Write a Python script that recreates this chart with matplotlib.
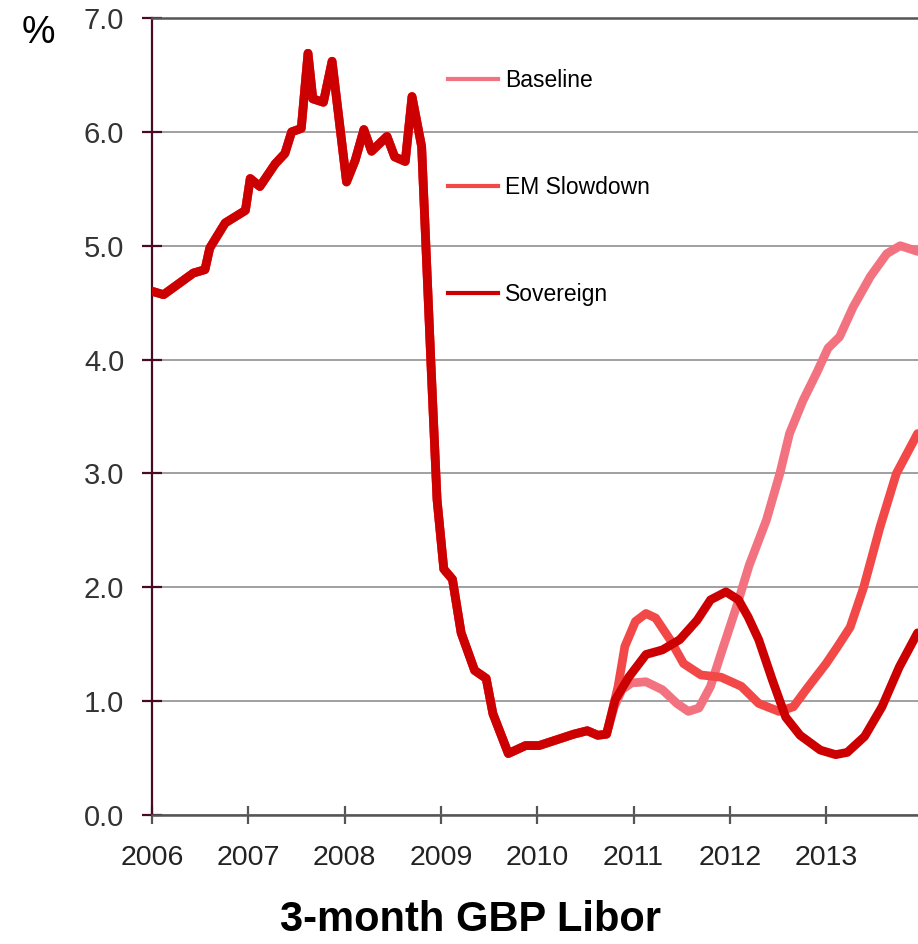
import matplotlib
matplotlib.use('Agg')
import matplotlib.pyplot as plt
from matplotlib.lines import Line2D

plt.rcParams['font.family'] = ['Liberation Sans', 'DejaVu Sans']

# history (shared by all scenarios)
hist_x = [2006.00, 2006.12, 2006.43, 2006.55, 2006.60, 2006.76, 2006.97, 2007.02, 2007.12, 2007.28,
          2007.38, 2007.45, 2007.55, 2007.62, 2007.67, 2007.78, 2007.87, 2008.02, 2008.11, 2008.20,
          2008.28, 2008.44, 2008.52, 2008.63, 2008.70, 2008.80, 2008.90, 2008.96, 2009.03, 2009.12,
          2009.21, 2009.35, 2009.47, 2009.54, 2009.70, 2009.88, 2010.02, 2010.20, 2010.38, 2010.52,
          2010.63]
hist_y = [4.60, 4.57, 4.76, 4.79, 4.98, 5.20, 5.31, 5.59, 5.52, 5.72,
          5.81, 6.00, 6.03, 6.69, 6.29, 6.26, 6.62, 5.56, 5.75, 6.02,
          5.83, 5.96, 5.78, 5.74, 6.31, 5.87, 3.90, 2.77, 2.16, 2.07,
          1.60, 1.27, 1.20, 0.89, 0.54, 0.61, 0.61, 0.66, 0.71, 0.74,
          0.70]

base_x = [2010.72, 2010.80, 2010.88, 2010.98, 2011.13, 2011.30, 2011.45, 2011.57, 2011.68, 2011.80,
          2011.91, 2012.07, 2012.20, 2012.38, 2012.52, 2012.62, 2012.76, 2012.90, 2013.02, 2013.14,
          2013.28, 2013.46, 2013.63, 2013.77, 2013.95]
base_y = [0.71, 0.95, 1.10, 1.16, 1.17, 1.10, 0.98, 0.91, 0.94, 1.13,
          1.42, 1.83, 2.19, 2.59, 3.00, 3.35, 3.64, 3.88, 4.10, 4.20,
          4.46, 4.73, 4.93, 5.00, 4.95]

em_x = [2010.72, 2010.84, 2010.91, 2011.02, 2011.13, 2011.23, 2011.38, 2011.52, 2011.70, 2011.91,
        2012.12, 2012.30, 2012.51, 2012.66, 2012.80, 2013.00, 2013.12, 2013.25, 2013.39, 2013.56,
        2013.73, 2013.95]
em_y = [0.71, 1.13, 1.48, 1.70, 1.77, 1.73, 1.54, 1.33, 1.23, 1.21,
        1.13, 0.98, 0.91, 0.95, 1.11, 1.33, 1.48, 1.65, 2.00, 2.53,
        3.00, 3.35]

sov_x = [2010.72, 2010.81, 2010.95, 2011.13, 2011.30, 2011.48, 2011.66, 2011.80, 2011.96, 2012.09,
         2012.19, 2012.30, 2012.44, 2012.58, 2012.73, 2012.94, 2013.10, 2013.22, 2013.40, 2013.58,
         2013.76, 2013.95]
sov_y = [0.71, 1.01, 1.21, 1.41, 1.45, 1.54, 1.71, 1.89, 1.96, 1.89,
         1.74, 1.54, 1.19, 0.86, 0.70, 0.57, 0.53, 0.55, 0.69, 0.95,
         1.30, 1.60]

names = ['Baseline', 'EM Slowdown', 'Sovereign']
colors = ['#F2737F', '#F24848', '#CC0000']
years = [2006, 2007, 2008, 2009, 2010, 2011, 2012, 2013]
yticks = [0.0, 1.0, 2.0, 3.0, 4.0, 5.0, 6.0, 7.0]

fig = plt.figure(figsize=(9.18, 9.44), dpi=100)
ax = fig.add_axes([152 / 918, 1 - 815 / 944, 766 / 918, 797 / 944])

series = [(base_x, base_y), (em_x, em_y), (sov_x, sov_y)]
for (sx, sy), c in zip(series, colors):
    ax.plot(hist_x + sx, hist_y + sy, color=c, lw=6.3,
            solid_joinstyle='round', solid_capstyle='round', zorder=3)

ax.set_xlim(2006, 2006 + 766 / 96.3)
ax.set_ylim(0, 7)
ax.set_yticks(yticks)
ax.set_yticklabels(['%.1f' % v for v in yticks])
ax.set_xticks(years)
ax.set_xticklabels([str(y) for y in years])

ax.yaxis.grid(True, color='#999999', lw=1.3)
ax.set_axisbelow(True)
ax.spines['right'].set_visible(False)
ax.spines['top'].set_color('#555555')
ax.spines['top'].set_linewidth(1.8)
ax.spines['left'].set_color('#4A0A24')
ax.spines['left'].set_linewidth(1.6)
ax.spines['bottom'].set_color('#555555')
ax.spines['bottom'].set_linewidth(1.8)

ax.tick_params(axis='y', direction='inout', length=14, width=1.6, color='#4A0A24',
               labelsize=21, labelcolor='#333333', pad=13)
ax.tick_params(axis='x', direction='inout', length=13, width=1.6, color='#555555',
               labelsize=20.5, labelcolor='#222222', pad=15)

handles = [Line2D([0], [0], color=c, lw=3) for c in colors]
ax.legend(handles, names, loc='upper left', bbox_to_anchor=(0.386, 0.936),
          frameon=False, fontsize=16.5, handlelength=2.2, handletextpad=0.3,
          labelspacing=3.67, borderpad=0, borderaxespad=0)

fig.text(38 / 918, 1 - 33 / 944, '%', fontsize=27, ha='center', va='center')
fig.text(470 / 918, 1 - 920 / 944, '3-month GBP Libor', fontsize=30,
         fontweight='bold', ha='center', va='center')

fig.savefig('out.png', dpi=100)
